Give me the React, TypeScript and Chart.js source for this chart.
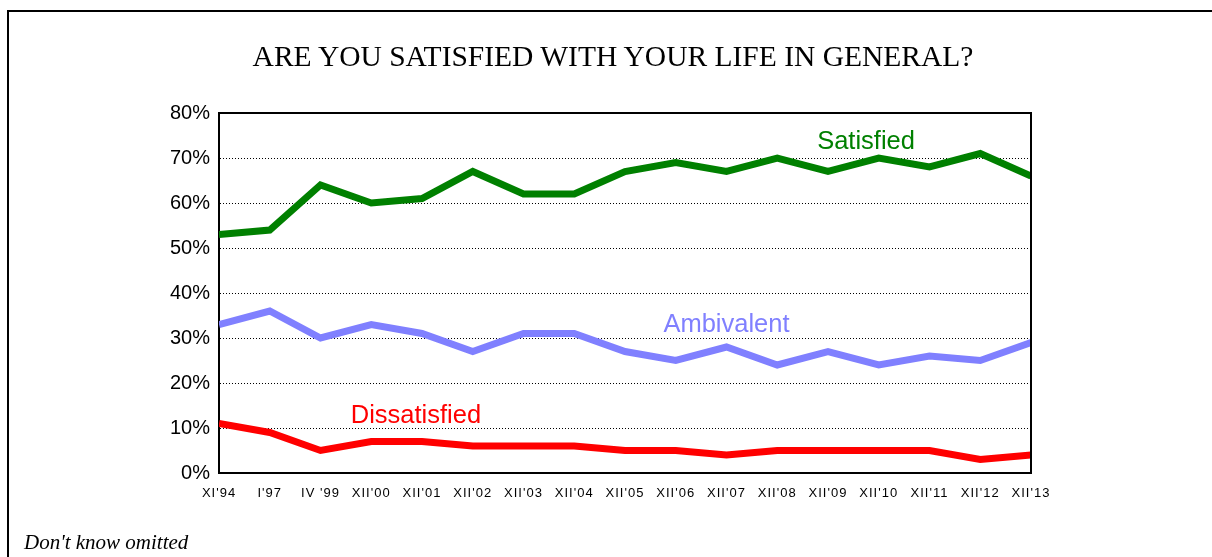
import React, { useEffect, useRef } from "react";
import { Chart, registerables } from "chart.js";

Chart.register(...registerables);

const categories = ["XI'94", "I'97", "IV '99", "XII'00", "XII'01", "XII'02", "XII'03", "XII'04", "XII'05", "XII'06", "XII'07", "XII'08", "XII'09", "XII'10", "XII'11", "XII'12", "XII'13"];
const satisfied = [53, 54, 64, 60, 61, 67, 62, 62, 67, 69, 67, 70, 67, 70, 68, 71, 66];
const ambivalent = [33, 36, 30, 33, 31, 27, 31, 31, 27, 25, 28, 24, 27, 24, 26, 25, 29];
const dissatisfied = [11, 9, 5, 7, 7, 6, 6, 6, 5, 5, 4, 5, 5, 5, 5, 3, 4];
const seriesNames = ["Satisfied", "Ambivalent", "Dissatisfied"];
const seriesColors = ["#008000", "#8080FF", "#FF0000"];
// label anchor: [category index, value]
const labelAnchorIndex = [12.75, 10.0, 3.88];
const labelAnchorValue = [73.5, 33.0, 12.6];
const yTicks = [0, 10, 20, 30, 40, 50, 60, 70, 80];
const titleText = "ARE YOU SATISFIED WITH YOUR LIFE IN GENERAL?";
const noteText = "Don't know omitted";

const W = 1212;
const H = 557;

const framePlugin = {
  id: "frame",
  afterDatasetsDraw(chart: any) {
    const { ctx, chartArea } = chart;
    ctx.save();
    ctx.strokeStyle = "#000";
    ctx.lineWidth = 2;
    ctx.beginPath();
    ctx.moveTo(chartArea.left, chartArea.top);
    ctx.lineTo(chartArea.right, chartArea.top);
    ctx.lineTo(chartArea.right, chartArea.bottom);
    ctx.stroke();
    ctx.restore();
  },
};

const seriesLabelPlugin = {
  id: "seriesLabels",
  afterDatasetsDraw(chart: any) {
    const { ctx } = chart;
    const xs = chart.scales.x;
    const ys = chart.scales.y;
    ctx.save();
    ctx.font = "25.5px Arial, 'Liberation Sans', sans-serif";
    ctx.textAlign = "center";
    ctx.textBaseline = "middle";
    seriesNames.forEach((name, i) => {
      const idx = labelAnchorIndex[i];
      const lo = Math.floor(idx);
      const hi = Math.min(lo + 1, categories.length - 1);
      const px = xs.getPixelForValue(lo) + (xs.getPixelForValue(hi) - xs.getPixelForValue(lo)) * (idx - lo);
      const py = ys.getPixelForValue(labelAnchorValue[i]);
      ctx.fillStyle = seriesColors[i];
      ctx.fillText(name, px, py);
    });
    ctx.restore();
  },
};

export default function App() {
  const ref = useRef<HTMLCanvasElement>(null);
  useEffect(() => {
    if (!ref.current) return;
    const chart = new Chart(ref.current, {
      type: "line",
      data: {
        labels: categories,
        datasets: [satisfied, ambivalent, dissatisfied].map((d, i) => ({
          label: seriesNames[i],
          data: d,
          borderColor: seriesColors[i],
          backgroundColor: seriesColors[i],
          borderWidth: 7,
          pointRadius: 0,
          tension: 0,
          fill: false,
          clip: 0,
          borderJoinStyle: "miter" as const,
        })),
      },
      options: {
        animation: false,
        responsive: false,
        maintainAspectRatio: false,
        layout: { padding: { left: 0, right: 181, top: 113, bottom: 50 } },
        plugins: {
          legend: { display: false },
          title: { display: false },
          tooltip: { enabled: false },
        },
        scales: {
          x: {
            offset: false,
            grid: { display: false, drawTicks: false },
            border: { display: true, color: "#000", width: 2 },
            ticks: {
              color: "#000",
              font: { family: "Arial, 'Liberation Sans', sans-serif", size: 13 },
              padding: 13,
              maxRotation: 0,
              autoSkip: false,
            },
            afterFit(scale: any) {
              scale.height = 557 - 473 - 50;
              if (!scale.__ls) {
                scale.__ls = true;
                const orig = scale.drawLabels.bind(scale);
                scale.drawLabels = (area: any) => {
                  const c = scale.ctx;
                  c.save();
                  c.letterSpacing = "1px";
                  orig(area);
                  c.restore();
                };
              }
            },
          },
          y: {
            min: 0,
            max: 80,
            afterBuildTicks(scale: any) {
              scale.ticks = yTicks.map((v) => ({ value: v }));
            },
            grid: {
              color: "#000",
              lineWidth: 1,
              drawTicks: false,
            },
            border: { display: true, color: "#000", width: 2, dash: [1, 2] },
            ticks: {
              color: "#000",
              font: { family: "Arial, 'Liberation Sans', sans-serif", size: 20 },
              padding: 9,
              callback: (v: any) => v + "%",
            },
            afterFit(scale: any) {
              scale.width = 219;
            },
          },
        },
      },
      plugins: [framePlugin, seriesLabelPlugin],
    } as any);
    return () => chart.destroy();
  }, []);

  return (
    <div style={{ position: "absolute", left: 0, top: 0, width: W, height: H, overflow: "hidden", background: "#fff" }}>
      <div style={{ position: "absolute", left: 7, top: 10, width: W, height: H, borderLeft: "2px solid #000", borderTop: "2px solid #000" }} />
      <canvas ref={ref} width={W} height={H} style={{ position: "absolute", left: 0, top: 0, width: W, height: H }} />
      <div style={{ position: "absolute", left: 0, width: 1226, top: 38, textAlign: "center", fontFamily: "'Liberation Serif', 'Times New Roman', serif", fontSize: 29.5, lineHeight: "36px", color: "#000", whiteSpace: "nowrap" }}>{titleText}</div>
      <div style={{ position: "absolute", left: 24, top: 529, fontFamily: "'Liberation Serif', 'Times New Roman', serif", fontStyle: "italic", fontSize: 21, lineHeight: "26px", color: "#000", whiteSpace: "nowrap" }}>{noteText}</div>
    </div>
  );
}
